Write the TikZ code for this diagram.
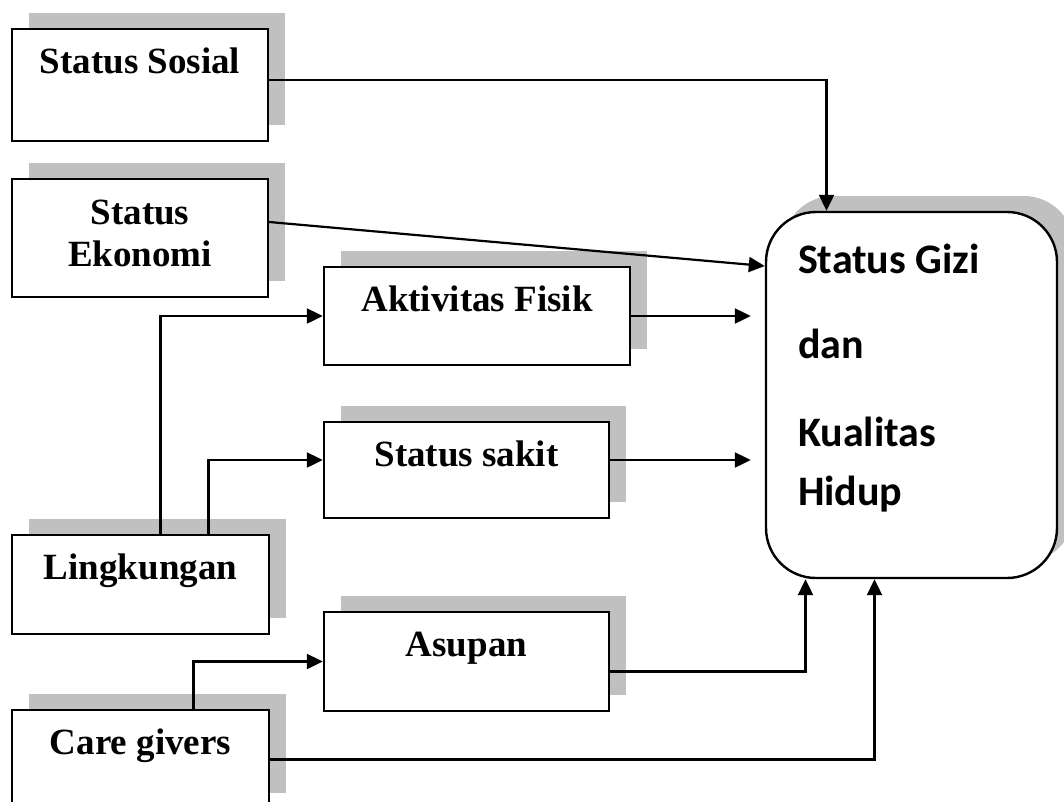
\documentclass[tikz,border=0pt]{standalone}
\usepackage{fontspec}
\setmainfont{Liberation Serif}
\newfontfamily\gizifont{Carlito}
\usetikzlibrary{arrows.meta,shadows}
\definecolor{shadowgrey}{HTML}{C0C0C0}
\begin{document}
\begin{tikzpicture}[
    x=1pt, y=-1pt,
    faktor/.style={draw, fill=white, line width=2.4pt, inner sep=0pt,
      drop shadow={shadow xshift=17pt, shadow yshift=16pt, fill=shadowgrey, opacity=1}},
    teks/.style={anchor=base, yshift=-46pt, inner sep=0pt,
      font=\fontsize{37pt}{42pt}\selectfont\bfseries},
    gizitext/.style={anchor=base west, xshift=33pt, yshift=-295pt, inner sep=0pt, align=left,
      font=\gizifont\fontsize{42pt}{59pt}\selectfont\bfseries},
    panah/.style={line width=2.2pt, -{Triangle[length=16pt,width=15pt]}}
    ]
    \useasboundingbox (0, 0) rectangle (1064, 801);
    \clip (0, 0) rectangle (1064, 801);

    \node (sosial) at (140, 85) [faktor, minimum width=256pt, minimum height=112pt,
      label={[teks]north:Status Sosial}] {};
    \node (ekonomi) at (140, 238) [faktor, minimum width=256pt, minimum height=118pt,
      label={[teks, align=center, yshift=-43pt]north:{Status\\Ekonomi}}] {};
    \node (aktivitas) at (477, 316) [faktor, minimum width=306pt, minimum height=98pt,
      label={[teks]north:Aktivitas Fisik}] {};
    \node (sakit) at (466.5, 470) [faktor, minimum width=285pt, minimum height=96pt,
      label={[teks]north:Status sakit}] {};
    \node (lingkungan) at (140.5, 584.5) [faktor, minimum width=257pt, minimum height=99pt,
      label={[teks]north:Lingkungan}] {};
    \node (asupan) at (466.5, 661.5) [faktor, minimum width=285pt, minimum height=99pt,
      label={[teks]north:Asupan}] {};
    \node (care) at (140.5, 759.5) [faktor, minimum width=257pt, minimum height=99pt,
      label={[teks]north:Care givers}] {};
    \node (gizi) at (911.5, 395) [faktor, rounded corners=50pt, minimum width=291pt, minimum height=366pt,
      label={[gizitext]north west:{Status Gizi\\[26pt]dan\\[29pt]Kualitas\\Hidup}}] {};

    \draw [panah] ([yshift=5pt]sosial.east) -| ([xshift=-85pt]gizi.north);
    \draw [panah] ([yshift=16pt]ekonomi.east) -- ([yshift=129pt]gizi.west);
    \draw [panah, shorten >=14pt] (aktivitas.east) -- (aktivitas.east -| gizi.west);
    \draw [panah, shorten >=14pt] ([yshift=10pt]sakit.east) -- ([yshift=10pt]sakit.east -| gizi.west);
    \draw [panah] ([xshift=20pt]lingkungan.north) |- (aktivitas.west);
    \draw [panah] ([xshift=68pt]lingkungan.north) |- ([yshift=10pt]sakit.west);
    \draw [panah] ([xshift=53pt]care.north) |- (asupan.west);
    \draw [panah] ([yshift=-10pt]asupan.east) -| ([xshift=-106pt]gizi.south);
    \draw [panah] (care.east) -| ([xshift=-37pt]gizi.south);
  \end{tikzpicture}
\end{document}
